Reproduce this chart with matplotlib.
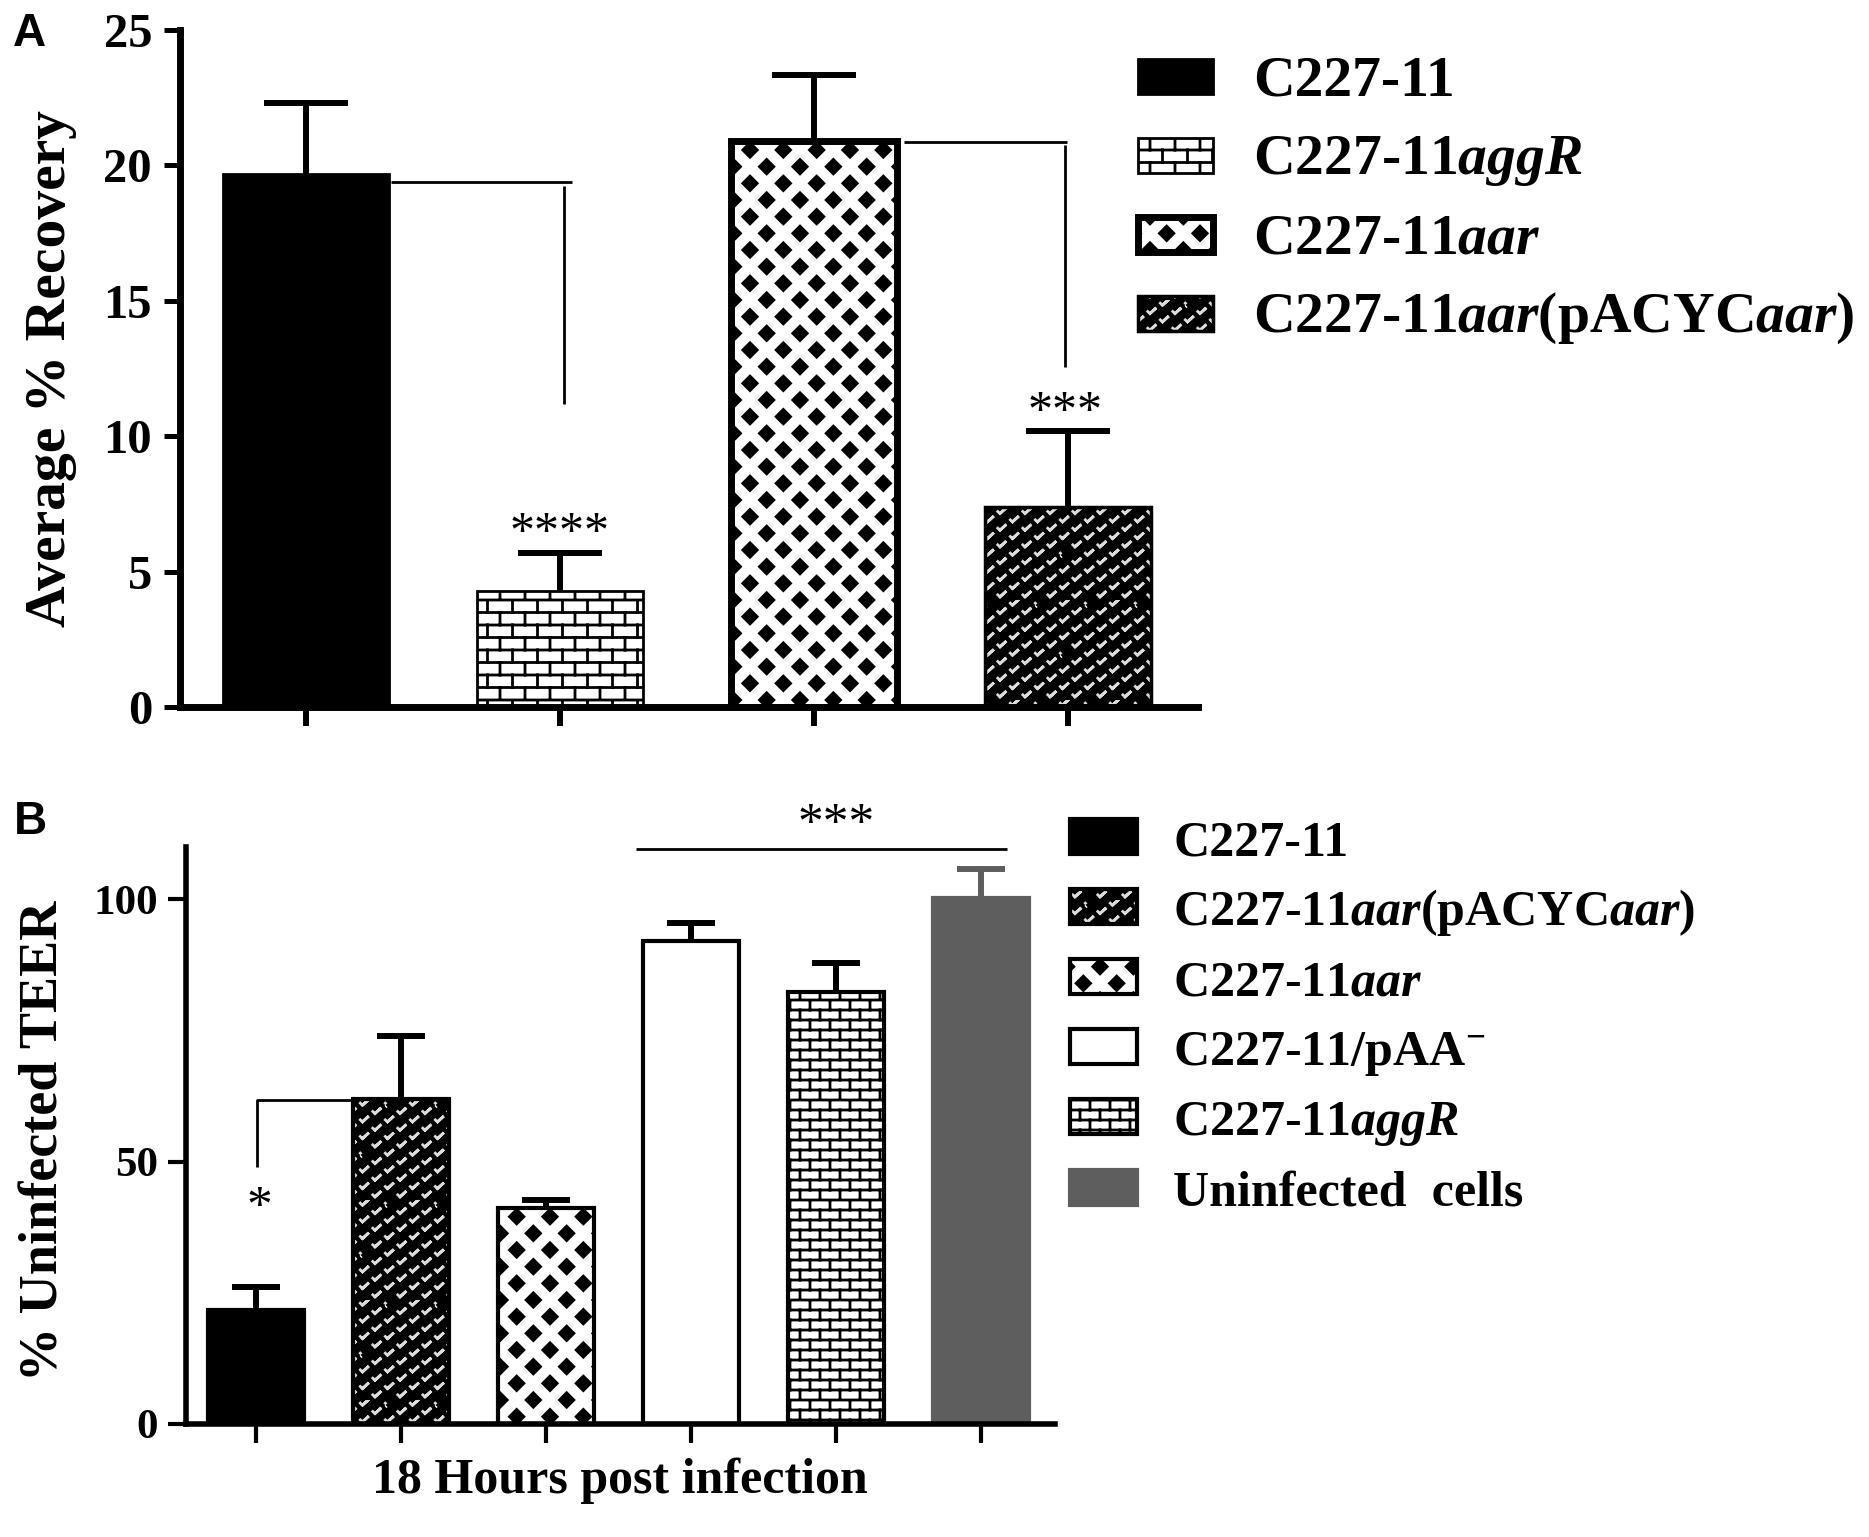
import warnings

import matplotlib
matplotlib.use("Agg")
import matplotlib.pyplot as plt
import matplotlib.hatch as mhatch
from matplotlib.patches import Rectangle
from matplotlib.path import Path

# custom hatch letters are not in matplotlib's list, silence the deprecation note
warnings.filterwarnings("ignore", message=".*hatch must consist.*")

W, H = 1869, 1537

# ---------------- data ----------------
# Panel A: average % recovery
strains_a = ["C227-11", "C227-11aggR", "C227-11aar", "C227-11aar(pACYCaar)"]
recovery_mean = [19.7, 4.3, 20.9, 7.4]
recovery_sem = [2.6, 1.4, 2.45, 2.8]
yticks_a = [0, 5, 10, 15, 20, 25]

# Panel B: % uninfected TEER, 18 h post infection
strains_b = ["C227-11", "C227-11aar(pACYCaar)", "C227-11aar",
             "C227-11/pAA-", "C227-11aggR", "Uninfected cells"]
teer_mean = [21.7, 61.9, 41.1, 92.0, 82.3, 100.2]
teer_sem = [4.4, 12.1, 1.6, 3.5, 5.5, 5.7]
yticks_b = [0, 50, 100]

# significance brackets (x in bar index units, y in data units)
brackets_a = [([0.335, 1.047], [19.4, 19.4]), ([1.016, 1.016], [19.25, 11.2]),
              ([2.354, 2.998], [20.87, 20.87]), ([2.990, 2.990], [20.74, 12.55])]
brackets_b = [([0.007, 0.007, 0.662], [48.9, 61.7, 61.7]),
              ([2.618, 5.179], [109.7, 109.7])]
stars_a = [(1.0, 5.95, "****"), (2.99, 10.4, "***")]
stars_b = [(0.02, 38.9, "*"), (4.0, 111.9, "***")]

labels = {
    "C227-11": "C227-11",
    "C227-11aggR": r"$\text{C227-11}\mathit{aggR}$",
    "C227-11aar": r"$\text{C227-11}\mathit{aar}$",
    "C227-11aar(pACYCaar)": r"$\text{C227-11}\mathit{aar}\text{(pACYC}\mathit{aar}\text{)}$",
    "C227-11/pAA-": r"$\text{C227-11/pAA}^{-}$",
    "Uninfected cells": "Uninfected  cells",
}


# ---------------- fill patterns ----------------
def brick(rows, cols):
    shapes = [([(0.0, j / rows), (1.0, j / rows)], False) for j in range(rows + 1)]
    for j in range(rows):
        off = 0.5 * (j % 2)
        for k in range(-1, cols + 2):
            x = (k + off) / cols
            if -1e-9 <= x <= 1 + 1e-9:
                shapes.append(([(x, j / rows), (x, (j + 1) / rows)], False))
    return shapes


def diamonds(n, r):
    centres = [(i / n, j / n) for i in range(n + 1) for j in range(n + 1)]
    centres += [((i + 0.5) / n, (j + 0.5) / n) for i in range(n) for j in range(n)]
    return [([(cx - r, cy), (cx, cy + r), (cx + r, cy), (cx, cy - r)], True)
            for cx, cy in centres]


def chevrons(cols, rows, a, h):
    shapes = []
    for j in range(rows):
        y = (j + 0.5) / rows - h / 2
        off = 0.5 * (j % 2)
        for k in range(-1, cols + 2):
            x = (k + off) / cols
            if -0.05 <= x <= 1.05:
                shapes.append(([(x - a, y + h), (x, y), (x + a, y + h), (x, y)], False))
    return shapes


HATCH_SHAPES = {
    "b": brick(8, 4),
    "k": brick(10, 5),
    "d": diamonds(3, 0.072),
    "v": chevrons(4, 12, 0.022, 0.02),
}


class ShapeHatch(mhatch.HatchPatternBase):
    def __init__(self, hatch, density):
        self.shapes = [s for ch, group in HATCH_SHAPES.items() if ch in hatch for s in group]
        self.num_vertices = sum(len(p) + int(c) for p, c in self.shapes)

    def set_vertices_and_codes(self, vertices, codes):
        k = 0
        for pts, closed in self.shapes:
            for n, p in enumerate(pts):
                vertices[k] = p
                codes[k] = Path.MOVETO if n == 0 else Path.LINETO
                k += 1
            if closed:
                vertices[k] = pts[0]
                codes[k] = Path.CLOSEPOLY
                k += 1


mhatch._hatch_types.append(ShapeHatch)

STYLES = {
    "C227-11": dict(face="black", hatch=None, hc="black", edge="black"),
    "C227-11aggR": dict(face="white", hatch="b", hc="black", edge="black"),
    "C227-11aar": dict(face="white", hatch="d", hc="black", edge="black"),
    "C227-11aar(pACYCaar)": dict(face="black", hatch="v", hc="#dcdcdc", edge="black"),
    "C227-11/pAA-": dict(face="white", hatch=None, hc="black", edge="black"),
    "Uninfected cells": dict(face="#5e5e5e", hatch=None, hc="#5e5e5e", edge="#5e5e5e"),
}
lw_a = {"C227-11": 2, "C227-11aggR": 2, "C227-11aar": 5, "C227-11aar(pACYCaar)": 2.5}
lw_b = {name: 3 for name in strains_b}
hatch_b = {"C227-11aggR": "k"}

plt.rcParams["font.family"] = ["Liberation Serif", "DejaVu Serif"]
plt.rcParams["font.weight"] = "bold"
plt.rcParams["mathtext.fontset"] = "custom"
plt.rcParams["mathtext.rm"] = "Liberation Serif:bold"
plt.rcParams["mathtext.bf"] = "Liberation Serif:bold"
plt.rcParams["mathtext.it"] = "Liberation Serif:italic:bold"
plt.rcParams["hatch.linewidth"] = 2.0


def px_rect(left, top, right, bottom):
    return [left / W, 1 - bottom / H, (right - left) / W, (bottom - top) / H]


def draw_bar(ax, x, h, width, st, hatch, lw):
    ax.bar(x, h, width, color=st["face"], hatch=hatch, edgecolor=st["hc"], linewidth=0)
    ax.bar(x, h, width, fill=False, edgecolor=st["edge"], linewidth=lw)


def draw_errors(ax, means, sems, names, lw, cap):
    for i, (m, e) in enumerate(zip(means, sems)):
        col = "#5e5e5e" if names[i] == "Uninfected cells" else "black"
        eb = ax.errorbar(i, m, yerr=[[0], [e]], fmt="none", ecolor=col,
                         elinewidth=lw, capsize=cap, capthick=lw)
        eb[1][0].set_visible(False)


def draw_legend(fig, names, hatches, lws, x, top, pitch, w, h, text_x, fs):
    for k, name in enumerate(names):
        st = STYLES[name]
        y0 = top + k * pitch
        xy = (x / W, 1 - (y0 + h) / H)
        fig.add_artist(Rectangle(xy, w / W, h / H, transform=fig.transFigure,
                                 facecolor=st["face"], hatch=hatches.get(name, st["hatch"]),
                                 edgecolor=st["hc"], linewidth=0))
        fig.add_artist(Rectangle(xy, w / W, h / H, transform=fig.transFigure,
                                 fill=False, edgecolor=st["edge"], linewidth=lws[name]))
        fig.text(text_x / W, 1 - (y0 + h + 1) / H, labels[name], fontsize=fs,
                 ha="left", va="baseline")


fig = plt.figure(figsize=(W / 100, H / 100), dpi=100)

# ---------------- panel A ----------------
ax_a = fig.add_axes(px_rect(180, 30, 1198, 707))
for i, name in enumerate(strains_a):
    draw_bar(ax_a, i, recovery_mean[i], 0.655, STYLES[name], STYLES[name]["hatch"], lw_a[name])
draw_errors(ax_a, recovery_mean, recovery_sem, strains_a, 4.3, 30)
for xs, ys in brackets_a:
    ax_a.plot(xs, ys, color="black", lw=2, solid_capstyle="butt", clip_on=False)
for x, y, s in stars_a:
    ax_a.text(x, y, s, ha="center", va="baseline", fontsize=36, fontweight="normal")

ax_a.set_xlim(-0.496, 3.512)
ax_a.set_ylim(0, 25)
ax_a.set_yticks(yticks_a)
ax_a.set_xticks(range(len(strains_a)))
ax_a.tick_params(axis="y", length=11.5, width=3.6, pad=8.6, labelsize=35)
ax_a.tick_params(axis="x", length=14, width=4.3, labelbottom=False)
for side in ["top", "right"]:
    ax_a.spines[side].set_visible(False)
for side in ["left", "bottom"]:
    ax_a.spines[side].set_linewidth(5)
ax_a.set_ylabel("Average % Recovery", fontsize=41.5, fontweight="bold")
ax_a.yaxis.set_label_coords(-0.101, 0.5)

draw_legend(fig, strains_a, {}, lw_a, 1138, 59, 79, 75, 35, 1253, 41.5)

# ---------------- panel B ----------------
ax_b = fig.add_axes(px_rect(186, 847, 1054.5, 1424))
for i, name in enumerate(strains_b):
    st = STYLES[name]
    draw_bar(ax_b, i, teer_mean[i], 0.66, st, hatch_b.get(name, st["hatch"]), lw_b[name])
draw_errors(ax_b, teer_mean, teer_sem, strains_b, 4.3, 17)
for xs, ys in brackets_b:
    ax_b.plot(xs, ys, color="black", lw=2, solid_capstyle="butt", clip_on=False)
for x, y, s in stars_b:
    ax_b.text(x, y, s, ha="center", va="baseline", fontsize=37, fontweight="normal")

ax_b.set_xlim(-0.483, 5.507)
ax_b.set_ylim(0, 110)
ax_b.set_yticks(yticks_b)
ax_b.set_xticks(range(len(strains_b)))
ax_b.tick_params(axis="y", length=13, width=3, pad=7, labelsize=31)
ax_b.tick_params(axis="x", length=13.5, width=3, labelbottom=False)
for side in ["top", "right"]:
    ax_b.spines[side].set_visible(False)
for side in ["left", "bottom"]:
    ax_b.spines[side].set_linewidth(4)
ax_b.set_ylabel("% Uninfected TEER", fontsize=39, fontweight="bold")
ax_b.yaxis.set_label_coords(-0.134, 0.49)
ax_b.set_xlabel("18 Hours post infection", fontsize=36, fontweight="bold")
ax_b.xaxis.set_label_coords(0.5, -0.058)

draw_legend(fig, strains_b, hatch_b, lw_b, 1070, 819, 70.1, 67, 35, 1173, 36)

# panel letters
fig.text(13 / W, 1 - 12 / H, "A", family="Liberation Sans", fontweight="bold",
         fontsize=33, ha="left", va="top")
fig.text(14 / W, 1 - 800 / H, "B", family="Liberation Sans", fontweight="bold",
         fontsize=33, ha="left", va="top")

fig.savefig("out.png", dpi=100)
